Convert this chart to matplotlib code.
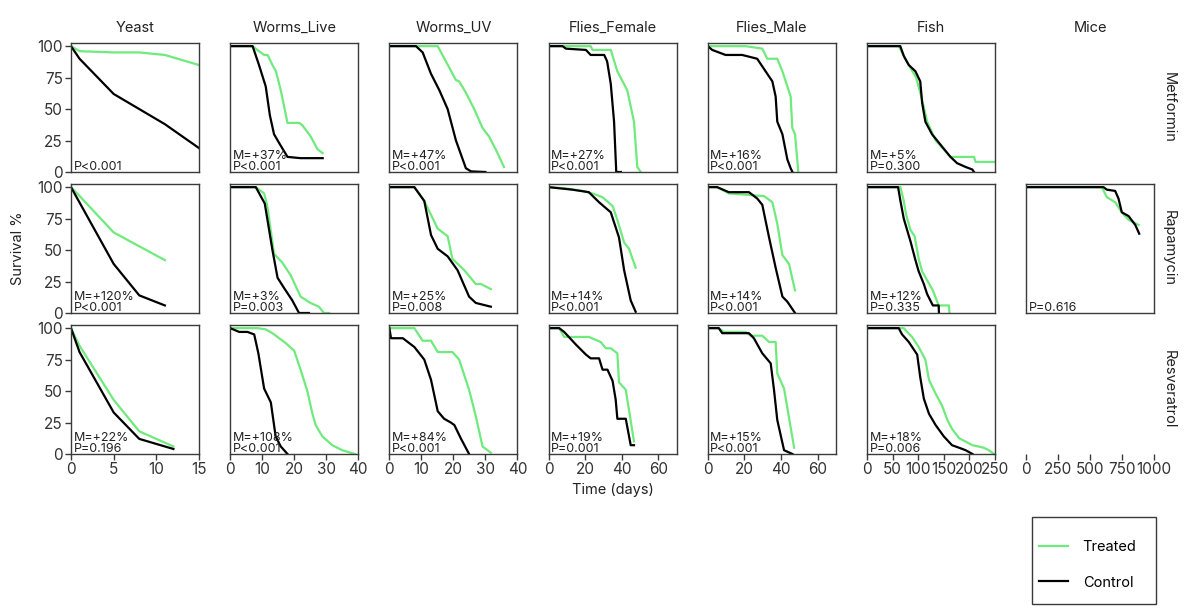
import matplotlib
matplotlib.use("Agg")
import matplotlib.pyplot as plt
from matplotlib.lines import Line2D
from matplotlib.patches import Rectangle

plt.rcParams["font.family"] = ["Inter", "DejaVu Sans"]

species = ["Yeast", "Worms_Live", "Worms_UV", "Flies_Female", "Flies_Male", "Fish", "Mice"]
drugs = ["Metformin", "Rapamycin", "Resveratrol"]
x_max = [15, 40, 40, 70, 70, 250, 1000]
x_ticks = [
    [0, 5, 10, 15],
    [0, 10, 20, 30, 40],
    [0, 10, 20, 30, 40],
    [0, 20, 40, 60],
    [0, 20, 40, 60],
    [0, 50, 100, 150, 200, 250],
    [0, 250, 500, 750, 1000],
]

# (time, survival %)
# --- Metformin ---
yeast_met_trt = [(0, 100), (1, 96), (5, 95), (8, 95), (11, 93), (15, 85)]
yeast_met_ctl = [(0, 100), (1, 90), (5, 62), (8, 50), (11, 38), (15, 19)]
wlive_met_trt = [(0, 100), (7, 100), (8.5, 97), (10.6, 93), (11.7, 93), (13.2, 85), (14.3, 80),
                 (15.8, 65), (17.9, 39), (21.6, 39), (22.6, 37), (25.2, 28), (27.3, 18), (28.9, 15)]
wlive_met_ctl = [(0, 100), (7, 100), (9, 85), (11.1, 68), (12.4, 45), (13.7, 30), (15.3, 23),
                 (17.9, 12), (22, 11), (28.9, 11)]
wuv_met_trt = [(0, 100), (15.1, 100), (20.8, 73), (21.8, 72), (23.9, 63), (26.5, 50), (29.1, 35),
               (31.2, 28), (33.8, 15), (35.8, 4)]
wuv_met_ctl = [(0, 100), (8.3, 100), (10.4, 95), (13, 78), (15.6, 65), (18.2, 50), (20.8, 25),
               (23.9, 3), (25.5, 0.5), (30, 0)]
ffem_met_trt = [(0, 100), (23, 100), (24, 97), (34, 97), (37.6, 80), (43, 65), (46.7, 40),
                (48.5, 4), (50.4, 0)]
ffem_met_ctl = [(0, 100), (7.6, 100), (9.5, 98), (20.4, 97), (23, 93), (30.4, 93), (32, 88),
                (34, 70), (35.8, 40), (37, 0), (39.5, 0)]
fmale_met_trt = [(0, 100), (20.7, 100), (29.8, 98), (32.5, 90), (38, 90), (40.8, 80), (42.6, 72),
                 (45.3, 60), (46.2, 35), (47.7, 30), (49.5, 0)]
fmale_met_ctl = [(0, 100), (2.4, 97), (9.7, 93), (18.8, 93), (27, 90), (31.6, 80), (35.3, 72),
                 (37.1, 60), (38, 40), (40.8, 30), (43.5, 10), (45.3, 3), (46.3, 0)]
fish_met_trt = [(0, 100), (62, 100), (81.6, 85), (96, 75), (106, 60), (117.5, 40), (134, 25),
                (150, 18), (163, 12), (209, 12), (212, 8), (250, 8)]
fish_met_ctl = [(0, 100), (65, 100), (72, 92), (81.6, 85), (94.6, 80), (104, 72), (107.7, 55),
                (114, 40), (127, 30), (147, 20), (163, 12), (176, 7), (192.6, 4), (205.6, 2), (209, 0)]

# --- Rapamycin ---
yeast_rap_trt = [(0, 100), (1, 93), (5, 64), (11, 42)]
yeast_rap_ctl = [(0, 100), (5, 39), (8, 14), (11, 6)]
wlive_rap_trt = [(0, 100), (8, 100), (10.6, 95), (11.6, 85), (13.7, 47), (16.3, 40), (18.9, 30),
                 (22, 13), (25.1, 8), (27.7, 5), (29.3, 0), (30.9, 0)]
wlive_rap_ctl = [(0, 100), (8, 100), (10.8, 87), (13.2, 50), (14.8, 28), (16.8, 20), (19.4, 10),
                 (21.5, 0), (24.6, 0)]
wuv_rap_trt = [(0, 100), (7.8, 100), (10.9, 89), (15.1, 67), (18.2, 61), (19.7, 43), (23.4, 34),
               (27, 23), (28.6, 23), (31.7, 19)]
wuv_rap_ctl = [(0, 100), (7.8, 100), (10.9, 89), (13, 62), (15.1, 51), (18.2, 45), (21.3, 34),
               (24.9, 13), (27, 8), (31.7, 5)]
ffem_rap_trt = [(0, 100), (9.5, 99), (18.5, 97), (24, 95), (29.5, 92), (35, 85), (37.6, 74),
                (41.3, 56), (44, 51), (47.6, 36)]
ffem_rap_ctl = [(0, 100), (13, 98), (22, 96), (27.6, 88), (34, 80), (38.5, 60), (41.3, 34),
                (44.9, 10), (47.6, 1)]
fmale_rap_trt = [(0, 100), (5.1, 100), (11.5, 95), (20.7, 94), (28.9, 93), (30.7, 93), (35.3, 88),
                 (38, 71), (40.8, 46), (44.4, 39), (47.7, 18)]
fmale_rap_ctl = [(0, 100), (5.1, 100), (11.5, 96), (22.5, 96), (27, 91), (29.8, 86), (33.5, 60),
                 (37.1, 36), (40.8, 13), (43.5, 9), (47.7, 0)]
fish_rap_trt = [(0, 100), (65.3, 100), (71.8, 89), (76.4, 78), (84.9, 66), (93, 61), (101, 43),
                (107.7, 33), (117.5, 26), (128.6, 18), (140, 6), (160, 6), (161, 0)]
fish_rap_ctl = [(0, 100), (60.7, 100), (65.3, 89), (71.8, 75), (78.3, 66), (84.9, 57), (94.6, 42),
                (101, 33), (111, 23), (117.5, 15), (128.6, 6), (140, 6), (140.5, 0)]
mice_rap_trt = [(0, 100), (591, 100), (630, 92), (695, 88), (747, 80), (800, 74), (878, 70)]
mice_rap_ctl = [(0, 100), (604, 100), (630, 98), (695, 97), (721, 91), (747, 80), (800, 77),
                (852, 70), (883, 63)]

# --- Resveratrol ---
yeast_res_trt = [(0, 100), (1, 86), (5, 43), (8, 18), (12, 6)]
yeast_res_ctl = [(0, 100), (1, 81), (5, 33), (8, 12), (12, 4)]
wlive_res_trt = [(0, 100), (8.5, 100), (11.1, 99), (13.2, 96), (15.3, 92), (17.4, 88), (20, 82),
                 (22, 67), (24.1, 50), (25.7, 32), (26.7, 23), (28.8, 14), (31.9, 7), (35, 3), (39, 0)]
wlive_res_ctl = [(0, 100), (2.8, 97), (5.4, 97), (7.5, 95), (8.8, 80), (10.6, 52), (12.7, 41),
                 (14.2, 14), (15.8, 6), (17.9, 0)]
wuv_res_trt = [(0, 100), (7.8, 100), (10.4, 90), (13, 90), (15.1, 81), (19.7, 81), (21.8, 75),
               (24.9, 51), (27, 30), (29.1, 6), (31.7, 1)]
wuv_res_ctl = [(0, 100), (0.5, 92), (4.2, 92), (7.8, 85), (10.9, 75), (13, 59), (15.1, 34),
               (17.1, 28), (19.2, 25), (20.3, 23), (22.3, 12.5), (24.9, 0)]
ffem_res_trt = [(0, 100), (5.8, 100), (8.5, 93), (22, 93), (28.5, 89), (31.3, 84), (34, 84),
                (37.6, 80), (38.5, 57), (42.2, 51), (46.7, 10)]
ffem_res_ctl = [(0, 100), (5.8, 100), (8.5, 97), (14.9, 87), (20.4, 79), (23, 76), (27.6, 76),
                (29.5, 67), (32.2, 67), (35, 58), (36.7, 43), (37.6, 28), (42.2, 28), (44, 14),
                (44.9, 7), (46.7, 7)]
fmale_res_trt = [(0, 100), (6, 100), (8.8, 97), (20.7, 97), (23.4, 94), (29.8, 94), (33.5, 89),
                 (37.1, 89), (38, 64), (41.7, 52), (47.2, 5)]
fmale_res_ctl = [(0, 100), (6, 100), (7.9, 96), (22.5, 96), (25.2, 92), (29.8, 80), (34.4, 72),
                 (36.2, 51), (38, 27), (41.7, 3), (46.3, 0)]
fish_res_trt = [(0, 100), (71.8, 100), (78.3, 97), (88, 93), (101, 85), (114, 75), (121, 59),
                (134, 48), (147, 38), (157, 27), (166, 20), (180, 12.5), (206, 7), (228, 5),
                (238, 3), (248, 0)]
fish_res_ctl = [(0, 100), (62, 100), (68.5, 95), (81.6, 89), (98, 79), (104, 61), (111, 44),
                (121, 32), (134, 23), (150, 14), (166, 7), (183, 4.5), (192.6, 3), (206, 0)]

notes_met = ["P<0.001", "M=+37%\nP<0.001", "M=+47%\nP<0.001", "M=+27%\nP<0.001",
             "M=+16%\nP<0.001", "M=+5%\nP=0.300", None]
notes_rap = ["M=+120%\nP<0.001", "M=+3%\nP=0.003", "M=+25%\nP=0.008", "M=+14%\nP<0.001",
             "M=+14%\nP<0.001", "M=+12%\nP=0.335", "P=0.616"]
notes_res = ["M=+22%\nP=0.196", "M=+108%\nP<0.001", "M=+84%\nP<0.001", "M=+19%\nP=0.001",
             "M=+15%\nP<0.001", "M=+18%\nP=0.006", None]

curves = {
    0: [(yeast_met_trt, yeast_met_ctl), (wlive_met_trt, wlive_met_ctl), (wuv_met_trt, wuv_met_ctl),
        (ffem_met_trt, ffem_met_ctl), (fmale_met_trt, fmale_met_ctl), (fish_met_trt, fish_met_ctl), None],
    1: [(yeast_rap_trt, yeast_rap_ctl), (wlive_rap_trt, wlive_rap_ctl), (wuv_rap_trt, wuv_rap_ctl),
        (ffem_rap_trt, ffem_rap_ctl), (fmale_rap_trt, fmale_rap_ctl), (fish_rap_trt, fish_rap_ctl),
        (mice_rap_trt, mice_rap_ctl)],
    2: [(yeast_res_trt, yeast_res_ctl), (wlive_res_trt, wlive_res_ctl), (wuv_res_trt, wuv_res_ctl),
        (ffem_res_trt, ffem_res_ctl), (fmale_res_trt, fmale_res_ctl), (fish_res_trt, fish_res_ctl), None],
}
notes = [notes_met, notes_rap, notes_res]

GREEN = "#6fea7c"
BLACK = "#000000"
FRAME = "#3a3a3a"
TXT = "#222222"

W, H = 1200, 612
fig = plt.figure(figsize=(W / 100, H / 100), dpi=100)

left0, col_step, pw = 71, 159.2, 128
tops = [43, 184, 325]
ph = 129

for r in range(3):
    for c in range(7):
        x0 = left0 + c * col_step
        ax = fig.add_axes([x0 / W, 1 - (tops[r] + ph) / H, pw / W, ph / H])
        ax.set_xlim(0, x_max[c])
        ax.set_ylim(0, 102.5)
        for sp in ax.spines.values():
            sp.set_color(FRAME)
            sp.set_linewidth(1.0)
        ax.tick_params(direction="out", length=4, width=1, color=FRAME,
                       labelsize=11, labelcolor="#333333", pad=2)
        ax.set_xticks(x_ticks[c])
        ax.set_yticks([0, 25, 50, 75, 100])
        if c != 0:
            ax.tick_params(axis="y", left=False, labelleft=False)
        if r != 2:
            ax.tick_params(axis="x", bottom=False, labelbottom=False)
        if r == 0:
            ax.set_title(species[c], fontsize=10.5, color=TXT, pad=8)
        if c == 6:
            ax.text(1.11, 0.5, drugs[r], transform=ax.transAxes, rotation=270,
                    ha="center", va="center", fontsize=10.5, color=TXT)

        pair = curves[r][c]
        if pair is None:
            for sp in ax.spines.values():
                sp.set_visible(False)
            if r != 2:
                ax.set_xticks([])
            ax.set_yticks([])
            continue
        trt, ctl = pair
        ax.plot([p[0] for p in trt], [p[1] for p in trt], color=GREEN, lw=1.6)
        ax.plot([p[0] for p in ctl], [p[1] for p in ctl], color=BLACK, lw=1.6)
        if notes[r][c]:
            ax.text(0.02, -0.005, notes[r][c], transform=ax.transAxes, ha="left", va="bottom",
                    fontsize=9, color=TXT, linespacing=0.8)

fig.text(18 / W, 1 - 248 / H, "Survival %", rotation=90, ha="center", va="center",
         fontsize=10.5, color=TXT)
fig.text(613 / W, 1 - 490 / H, "Time (days)", ha="center", va="center",
         fontsize=10.5, color=TXT)

# legend frame drawn by hand so the entries sit at the left like the original
fig.patches.append(Rectangle((1032 / W, 1 - 604 / H), 124 / W, 87 / H, transform=fig.transFigure,
                             facecolor="white", edgecolor=FRAME, linewidth=1.0, zorder=0))
handles = [Line2D([], [], color=GREEN, lw=1.6), Line2D([], [], color=BLACK, lw=1.6)]
fig.legend(handles, ["Treated", "Control"], loc="center left",
           bbox_to_anchor=(1036 / W, 1 - 565 / H), fontsize=10.5, frameon=False,
           handlelength=2.0, labelspacing=1.45, borderpad=0.2, handletextpad=1.0,
           borderaxespad=0)

fig.savefig("out.png", dpi=100)
